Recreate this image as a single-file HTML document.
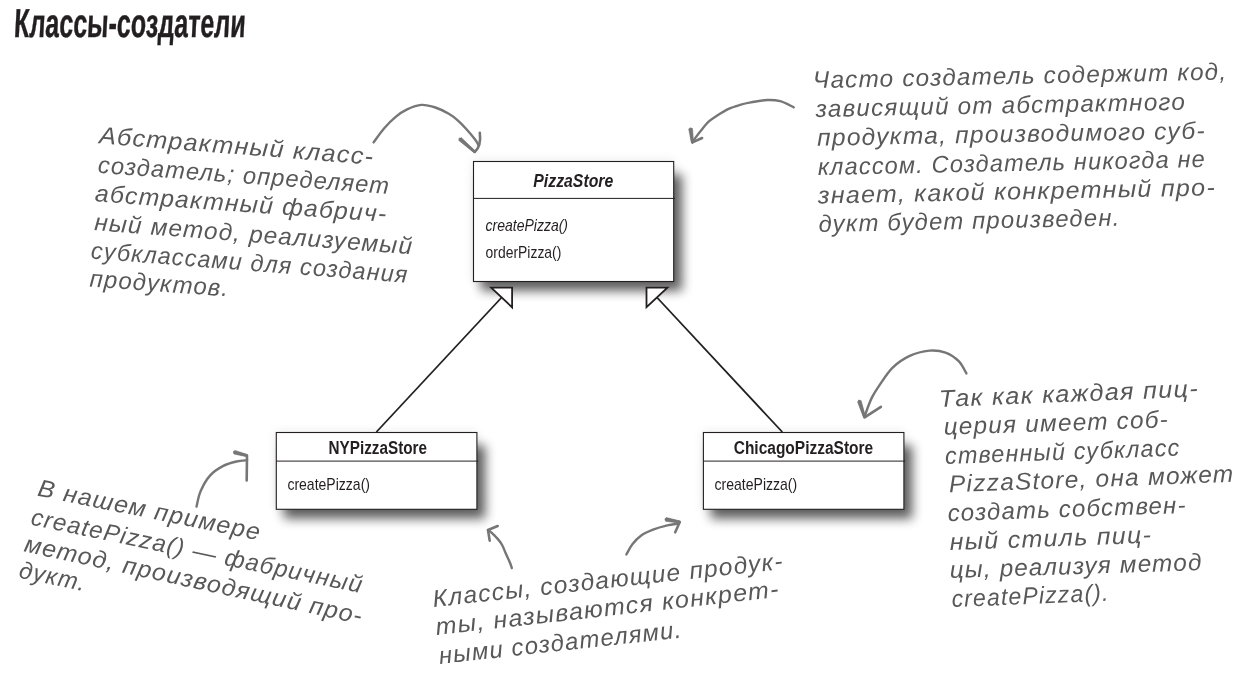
<!DOCTYPE html>
<html lang="ru"><head><meta charset="utf-8"><title>Классы-создатели</title>
<style>
html,body{margin:0;padding:0;background:#fff;}
svg{display:block;will-change:transform}
.h{font-family:'Liberation Sans',sans-serif;font-style:italic;fill:#585858;letter-spacing:1.2px}
.t{font-family:'Liberation Sans',sans-serif;font-weight:bold;fill:#231f20}
.b{font-family:'Liberation Sans',sans-serif;font-weight:bold;fill:#231f20}
.bi{font-family:'Liberation Sans',sans-serif;font-weight:bold;font-style:italic;fill:#231f20}
.m{font-family:'Liberation Sans',sans-serif;fill:#231f20}
.mi{font-family:'Liberation Sans',sans-serif;font-style:italic;fill:#231f20}
</style></head><body>
<svg width="1247" height="679" viewBox="0 0 1247 679">
<defs><filter id="sh" x="-20%" y="-20%" width="150%" height="160%"><feGaussianBlur stdDeviation="5.2"/></filter></defs>
<rect width="1247" height="679" fill="#fff"/>
<text class="t" font-size="40.5" stroke="#231f20" stroke-width="0.45" stroke-linejoin="round" transform="translate(13.6,37.2) skewX(-3)" textLength="231.5" lengthAdjust="spacingAndGlyphs">Классы-создатели</text>
<rect x="481.0" y="174.5" width="201.2" height="116.5" fill="#000" opacity="0.61" filter="url(#sh)"/><rect x="472.5" y="160.5" width="202.2" height="122.0" fill="#000" opacity="0.08" filter="url(#sh)"/><rect x="473.5" y="161.5" width="200.2" height="120.0" fill="#fff" stroke="#231f20" stroke-width="1.1"/><line x1="473.5" y1="198.4" x2="674.9000000000001" y2="198.4" stroke="#231f20" stroke-width="1"/>
<rect x="283.8" y="445.5" width="201.6" height="73.3" fill="#000" opacity="0.61" filter="url(#sh)"/><rect x="275.3" y="431.5" width="202.6" height="78.8" fill="#000" opacity="0.08" filter="url(#sh)"/><rect x="276.3" y="432.5" width="200.6" height="76.8" fill="#fff" stroke="#231f20" stroke-width="1.1"/><line x1="276.3" y1="461.1" x2="478.09999999999997" y2="461.1" stroke="#231f20" stroke-width="1"/>
<rect x="710.9" y="445.5" width="201.5" height="73.3" fill="#000" opacity="0.61" filter="url(#sh)"/><rect x="702.4" y="431.5" width="202.5" height="78.8" fill="#000" opacity="0.08" filter="url(#sh)"/><rect x="703.4" y="432.5" width="200.5" height="76.8" fill="#fff" stroke="#231f20" stroke-width="1.1"/><line x1="703.4" y1="461.1" x2="905.1" y2="461.1" stroke="#231f20" stroke-width="1"/>
<line x1="376.4" y1="432" x2="501.6" y2="297.5" stroke="#231f20" stroke-width="1.8"/>
<line x1="782.3" y1="432" x2="657" y2="297.5" stroke="#231f20" stroke-width="1.8"/>
<path d="M491.2,287.7 L512.1,287.7 L512.1,307.3 Z" fill="#fff" stroke="#231f20" stroke-width="1.8" stroke-linejoin="miter"/>
<path d="M667.4,287.7 L646.5,287.7 L646.5,307.1 Z" fill="#fff" stroke="#231f20" stroke-width="1.8" stroke-linejoin="miter"/>
<text class="bi" font-size="19.2" x="533.3" y="186.6" textLength="80" lengthAdjust="spacingAndGlyphs">PizzaStore</text>
<text class="mi" font-size="17" x="485.6" y="230.7" textLength="82.4" lengthAdjust="spacingAndGlyphs">createPizza()</text>
<text class="m" font-size="17" x="485.6" y="258" textLength="75.8" lengthAdjust="spacingAndGlyphs">orderPizza()</text>
<text class="b" font-size="18" x="328.5" y="453.6" textLength="98.5" lengthAdjust="spacingAndGlyphs">NYPizzaStore</text>
<text class="m" font-size="17" x="287.4" y="490" textLength="82.6" lengthAdjust="spacingAndGlyphs">createPizza()</text>
<text class="b" font-size="18" x="733.7" y="453.6" textLength="139.5" lengthAdjust="spacingAndGlyphs">ChicagoPizzaStore</text>
<text class="m" font-size="17" x="714.5" y="490" textLength="82.7" lengthAdjust="spacingAndGlyphs">createPizza()</text>
<text class="h" font-size="24" transform="translate(98.8,143.3) rotate(4.47)" textLength="275.7" lengthAdjust="spacingAndGlyphs">Абстрактный класс-</text>
<text class="h" font-size="24" transform="translate(97.6,172.7) rotate(4.15)" textLength="292.7" lengthAdjust="spacingAndGlyphs">создатель; определяет</text>
<text class="h" font-size="24" transform="translate(94.5,201.3) rotate(4.05)" textLength="293.2" lengthAdjust="spacingAndGlyphs">абстрактный фабрич-</text>
<text class="h" font-size="24" transform="translate(94.0,230.1) rotate(4.36)" textLength="319.5" lengthAdjust="spacingAndGlyphs">ный метод, реализуемый</text>
<text class="h" font-size="24" transform="translate(90.6,258.5) rotate(4.38)" textLength="318.2" lengthAdjust="spacingAndGlyphs">субклассами для создания</text>
<text class="h" font-size="24" transform="translate(89.2,286.5) rotate(4.06)" textLength="139.9" lengthAdjust="spacingAndGlyphs">продуктов.</text>
<text class="h" font-size="24" transform="translate(813.1,88.1) rotate(-1.19)" textLength="414.4" lengthAdjust="spacingAndGlyphs">Часто создатель содержит код,</text>
<text class="h" font-size="24" transform="translate(815.8,116.9) rotate(-1.11)" textLength="370.4" lengthAdjust="spacingAndGlyphs">зависящий от абстрактного</text>
<text class="h" font-size="24" transform="translate(817.3,145.7) rotate(-1.06)" textLength="388.8" lengthAdjust="spacingAndGlyphs">продукта, производимого суб-</text>
<text class="h" font-size="24" transform="translate(818.0,175.1) rotate(-1.20)" textLength="388.1" lengthAdjust="spacingAndGlyphs">классом. Создатель никогда не</text>
<text class="h" font-size="24" transform="translate(818.0,203.5) rotate(-1.18)" textLength="398.1" lengthAdjust="spacingAndGlyphs">знает, какой конкретный про-</text>
<text class="h" font-size="24" transform="translate(818.7,232.1) rotate(-1.25)" textLength="302.0" lengthAdjust="spacingAndGlyphs">дукт будет произведен.</text>
<text class="h" font-size="24" transform="translate(36.8,495.6) rotate(11.39)" textLength="227.3" lengthAdjust="spacingAndGlyphs">В нашем примере</text>
<text class="h" font-size="24" transform="translate(29.9,524.5) rotate(11.72)" textLength="338.6" lengthAdjust="spacingAndGlyphs">createPizza() — фабричный</text>
<text class="h" font-size="24" transform="translate(23.3,551.3) rotate(12.19)" textLength="345.8" lengthAdjust="spacingAndGlyphs">метод, производящий про-</text>
<text class="h" font-size="24" transform="translate(18.0,577.5) rotate(11.71)" textLength="68.0" lengthAdjust="spacingAndGlyphs">дукт.</text>
<text class="h" font-size="24" transform="translate(433.6,606.9) rotate(-6.21)" textLength="352.9" lengthAdjust="spacingAndGlyphs">Классы, создающие продук-</text>
<text class="h" font-size="24" transform="translate(436.5,635.0) rotate(-6.36)" textLength="345.8" lengthAdjust="spacingAndGlyphs">ты, называются конкрет-</text>
<text class="h" font-size="24" transform="translate(439.7,663.9) rotate(-6.21)" textLength="244.8" lengthAdjust="spacingAndGlyphs">ными создателями.</text>
<text class="h" font-size="24" transform="translate(939.3,407.0) rotate(-2.33)" textLength="260.2" lengthAdjust="spacingAndGlyphs">Так как каждая пиц-</text>
<text class="h" font-size="24" transform="translate(944.0,434.8) rotate(-1.96)" textLength="225.3" lengthAdjust="spacingAndGlyphs">церия имеет соб-</text>
<text class="h" font-size="24" transform="translate(945.3,463.9) rotate(-2.02)" textLength="235.5" lengthAdjust="spacingAndGlyphs">ственный субкласс</text>
<text class="h" font-size="24" transform="translate(949.3,492.2) rotate(-2.09)" textLength="285.5" lengthAdjust="spacingAndGlyphs">PizzaStore, она может</text>
<text class="h" font-size="24" transform="translate(947.9,521.2) rotate(-2.01)" textLength="239.1" lengthAdjust="spacingAndGlyphs">создать собствен-</text>
<text class="h" font-size="24" transform="translate(949.9,550.0) rotate(-2.06)" textLength="202.6" lengthAdjust="spacingAndGlyphs">ный стиль пиц-</text>
<text class="h" font-size="24" transform="translate(949.9,578.1) rotate(-1.83)" textLength="253.0" lengthAdjust="spacingAndGlyphs">цы, реализуя метод</text>
<text class="h" font-size="24" transform="translate(951.9,607.1) rotate(-2.32)" textLength="158.1" lengthAdjust="spacingAndGlyphs">createPizza().</text>
<path d="M373.6,142.4 C375.3,140.1 380.4,132.7 384.0,128.5 C387.6,124.3 391.5,120.3 395.4,117.1 C399.2,113.9 402.8,111.4 407.1,109.4 C411.4,107.4 416.6,105.2 421.3,104.9 C426.0,104.6 430.8,106.0 435.4,107.5 C440.0,109.0 445.1,111.6 448.8,113.7 C452.5,115.8 454.8,117.7 457.7,120.3 C460.6,122.9 463.6,125.9 466.5,129.2 C469.4,132.4 473.3,137.2 475.3,139.8 C477.3,142.5 477.9,144.2 478.4,145.1" fill="none" stroke="#767676" stroke-width="2.4" stroke-linecap="round"/><path d="M459.9,138.9 L474.8,152.0 Q481.5,146.0 479.8,132.7" fill="none" stroke="#767676" stroke-width="2.6" stroke-linecap="round" stroke-linejoin="round"/><path d="M475.5,151.2 L461.2,137.5 L458.6,140.3 L474.1,152.8 Z" fill="#767676" stroke="#767676" stroke-width="0.6" stroke-linejoin="round"/>
<path d="M793.7,107.3 C791.5,106.3 784.6,102.4 780.2,101.2 C775.8,100.0 772.1,99.8 767.2,100.0 C762.3,100.2 755.2,101.6 750.7,102.4 C746.2,103.2 743.7,103.8 740.0,104.9 C736.3,106.0 732.3,107.1 728.6,108.8 C724.9,110.5 721.2,112.9 718.0,115.0 C714.8,117.1 711.9,118.8 709.2,121.2 C706.6,123.6 704.3,126.5 702.1,129.2 C699.9,131.8 697.5,134.9 695.9,137.1 C694.3,139.3 693.0,141.5 692.4,142.4" fill="none" stroke="#767676" stroke-width="2.4" stroke-linecap="round"/><path d="M690.6,128.7 L692.4,142.4 L702.1,138.0" fill="none" stroke="#767676" stroke-width="2.6" stroke-linecap="round" stroke-linejoin="round"/><path d="M693.5,142.3 L692.5,128.5 L688.7,128.9 L691.3,142.5 Z" fill="#767676" stroke="#767676" stroke-width="0.6" stroke-linejoin="round"/>
<path d="M196.5,506.6 C197.2,504.1 198.3,496.5 200.6,491.3 C202.8,486.1 206.2,479.8 210.0,475.6 C213.8,471.4 218.9,468.2 223.3,465.9 C227.7,463.5 232.5,462.4 236.5,461.5 C240.5,460.6 245.3,460.4 247.1,460.2" fill="none" stroke="#767676" stroke-width="2.4" stroke-linecap="round"/><path d="M234.3,452.2 L247.0,455.6 L246.7,480.5" fill="none" stroke="#767676" stroke-width="2.6" stroke-linecap="round" stroke-linejoin="round"/><path d="M247.3,454.5 L234.8,450.4 L233.8,454.0 L246.7,456.7 Z" fill="#767676" stroke="#767676" stroke-width="0.6" stroke-linejoin="round"/>
<path d="M511.8,568.0 C511.5,567.1 511.0,565.2 510.0,562.7 C509.0,560.2 506.9,556.0 505.6,553.0 C504.3,550.0 503.4,547.4 502.1,545.0 C500.8,542.6 499.5,540.9 497.7,538.9 C495.9,536.9 493.1,534.2 491.5,532.7 C489.9,531.2 488.6,530.5 488.0,530.0" fill="none" stroke="#767676" stroke-width="2.4" stroke-linecap="round"/><path d="M489.7,540.6 L488.0,530.0 L497.7,526.0" fill="none" stroke="#767676" stroke-width="2.6" stroke-linecap="round" stroke-linejoin="round"/>
<path d="M626.4,554.5 C627.4,552.8 630.0,547.3 632.4,544.2 C634.8,541.1 637.2,538.3 640.6,535.9 C644.0,533.5 648.7,531.4 653.0,529.7 C657.3,528.0 662.1,526.6 666.4,525.6 C670.7,524.6 676.7,523.9 678.8,523.6" fill="none" stroke="#767676" stroke-width="2.4" stroke-linecap="round"/><path d="M665.9,519.4 L679.8,522.0 L675.2,532.3" fill="none" stroke="#767676" stroke-width="2.6" stroke-linecap="round" stroke-linejoin="round"/><path d="M680.0,520.9 L666.2,517.5 L665.6,521.3 L679.6,523.1 Z" fill="#767676" stroke="#767676" stroke-width="0.6" stroke-linejoin="round"/>
<path d="M966.4,373.4 C965.1,371.4 962.2,364.7 958.7,361.2 C955.2,357.7 950.4,354.4 945.5,352.6 C940.6,350.8 935.5,350.1 929.5,350.6 C923.5,351.2 915.9,353.0 909.7,355.9 C903.5,358.8 897.5,362.9 892.4,367.8 C887.3,372.8 882.6,380.7 879.2,385.6 C875.8,390.5 874.0,393.4 872.1,397.1 C870.2,400.8 868.9,404.6 867.7,407.7 C866.5,410.8 865.5,414.3 865.0,415.6" fill="none" stroke="#767676" stroke-width="2.4" stroke-linecap="round"/><path d="M859.3,401.1 L864.6,417.4 L880.9,406.8" fill="none" stroke="#767676" stroke-width="2.6" stroke-linecap="round" stroke-linejoin="round"/><path d="M865.6,417.1 L861.1,400.5 L857.5,401.7 L863.6,417.7 Z" fill="#767676" stroke="#767676" stroke-width="0.6" stroke-linejoin="round"/>
</svg></body></html>
